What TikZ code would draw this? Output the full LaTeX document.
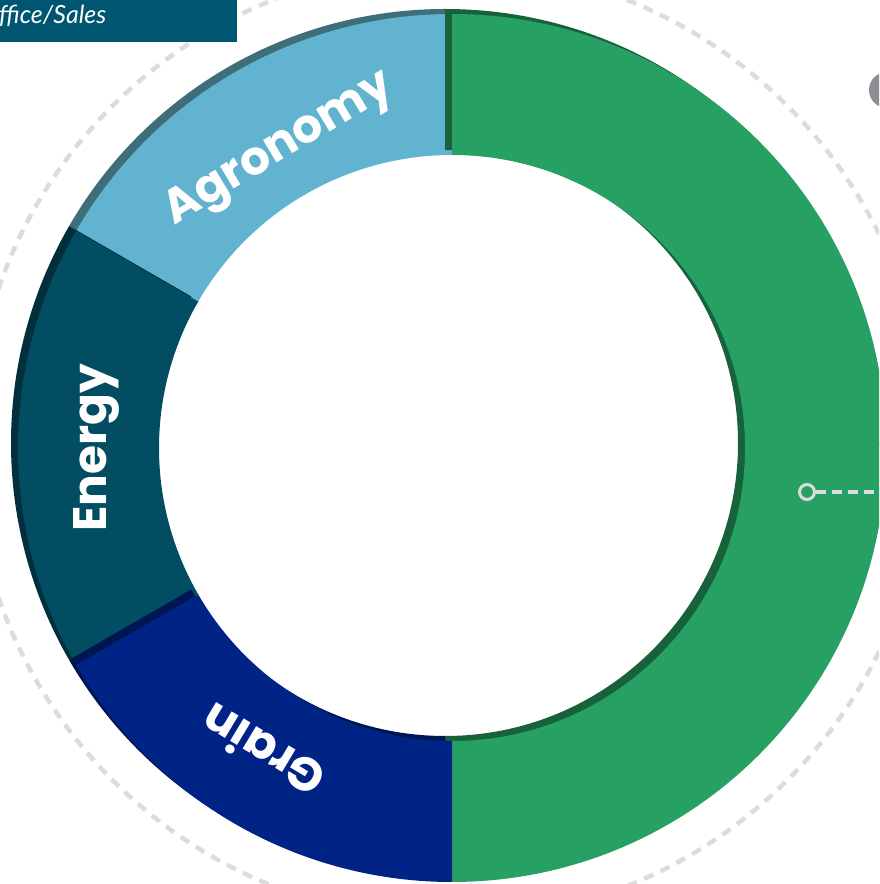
\documentclass[tikz,border=0pt]{standalone}
\usepackage{fontspec}
\newfontfamily\labelfont{Poppins}
\newfontfamily\boxfont{Lato}
\usetikzlibrary{calc}

\definecolor{greenface}{HTML}{27A064}
\definecolor{greenside}{HTML}{17613B}
\definecolor{agroface}{HTML}{62B3CF}
\definecolor{agroside}{HTML}{3F6E7B}
\definecolor{energyface}{HTML}{024D62}
\definecolor{energyside}{HTML}{012F3C}
\definecolor{grainface}{HTML}{002486}
\definecolor{grainside}{HTML}{001652}
\definecolor{boxteal}{HTML}{005670}
\definecolor{ringgrey}{HTML}{DCDCDC}
\definecolor{markgrey}{HTML}{8E8F94}

\begin{document}
\begin{tikzpicture}[
  x=1pt,
  y=1pt,
  ring guide/.style={
    draw=ringgrey,
    line width=4.5pt,
    dash pattern=on 10pt off 8pt
  },
  leader/.style={
    draw=ringgrey,
    line width=4pt,
    dash pattern=on 10pt off 6pt
  },
  seg label/.style={
    text=white,
    inner sep=0pt,
    font=\labelfont\bfseries\fontsize{47}{47}\selectfont
  },
]
\useasboundingbox (0,0) rectangle (879,884);
\clip (0,0) rectangle (879,884);
\coordinate (hub) at (452,436);
\draw[ring guide] (450,441) circle[radius=477];
% side first, then face, segment by segment
\foreach \a/\b/\face/\side in {
    150/90/agroface/agroside,
    210/150/energyface/energyside,
    90/-90/greenface/greenside,
    270/210/grainface/grainside}{
  \fill[\side,shift={(445,441)}] (\a:434) arc[start angle=\a,end angle=\b,radius=434]
    -- (\b:293) arc[start angle=\b,end angle=\a,radius=293] -- cycle;
  \fill[\face,shift={(hub)}] (\a:434) arc[start angle=\a,end angle=\b,radius=434]
    -- (\b:293) arc[start angle=\b,end angle=\a,radius=293] -- cycle;
}
\node[seg label,rotate=31] (agronomy) at ($(hub)+(120:344)$) {Agronomy};
\node[seg label,rotate=90] (energy) at ($(hub)+(180:356)$) {Energy};
\node[seg label,rotate=149] (grain) at ($(hub)+(238:358)$) {Grain};
\node[fill=boxteal,anchor=north west,minimum width=237pt,minimum height=42pt,inner sep=0pt] (officebox) at (0,884) {};
\node[anchor=base west,text=white,inner sep=0pt,font=\boxfont\itshape\fontsize{25}{25}\selectfont] (office) at (-1,860) {ffice/Sales};
\node[circle,fill=markgrey,minimum size=36pt,inner sep=0pt] (mark) at (887,794) {};
\node[circle,draw=ringgrey,line width=3pt,minimum size=15pt,inner sep=0pt] (pin) at (807,392) {};
\coordinate (rim) at (879,392);
\draw[leader] (pin) -- (rim);
\end{tikzpicture}
\end{document}
